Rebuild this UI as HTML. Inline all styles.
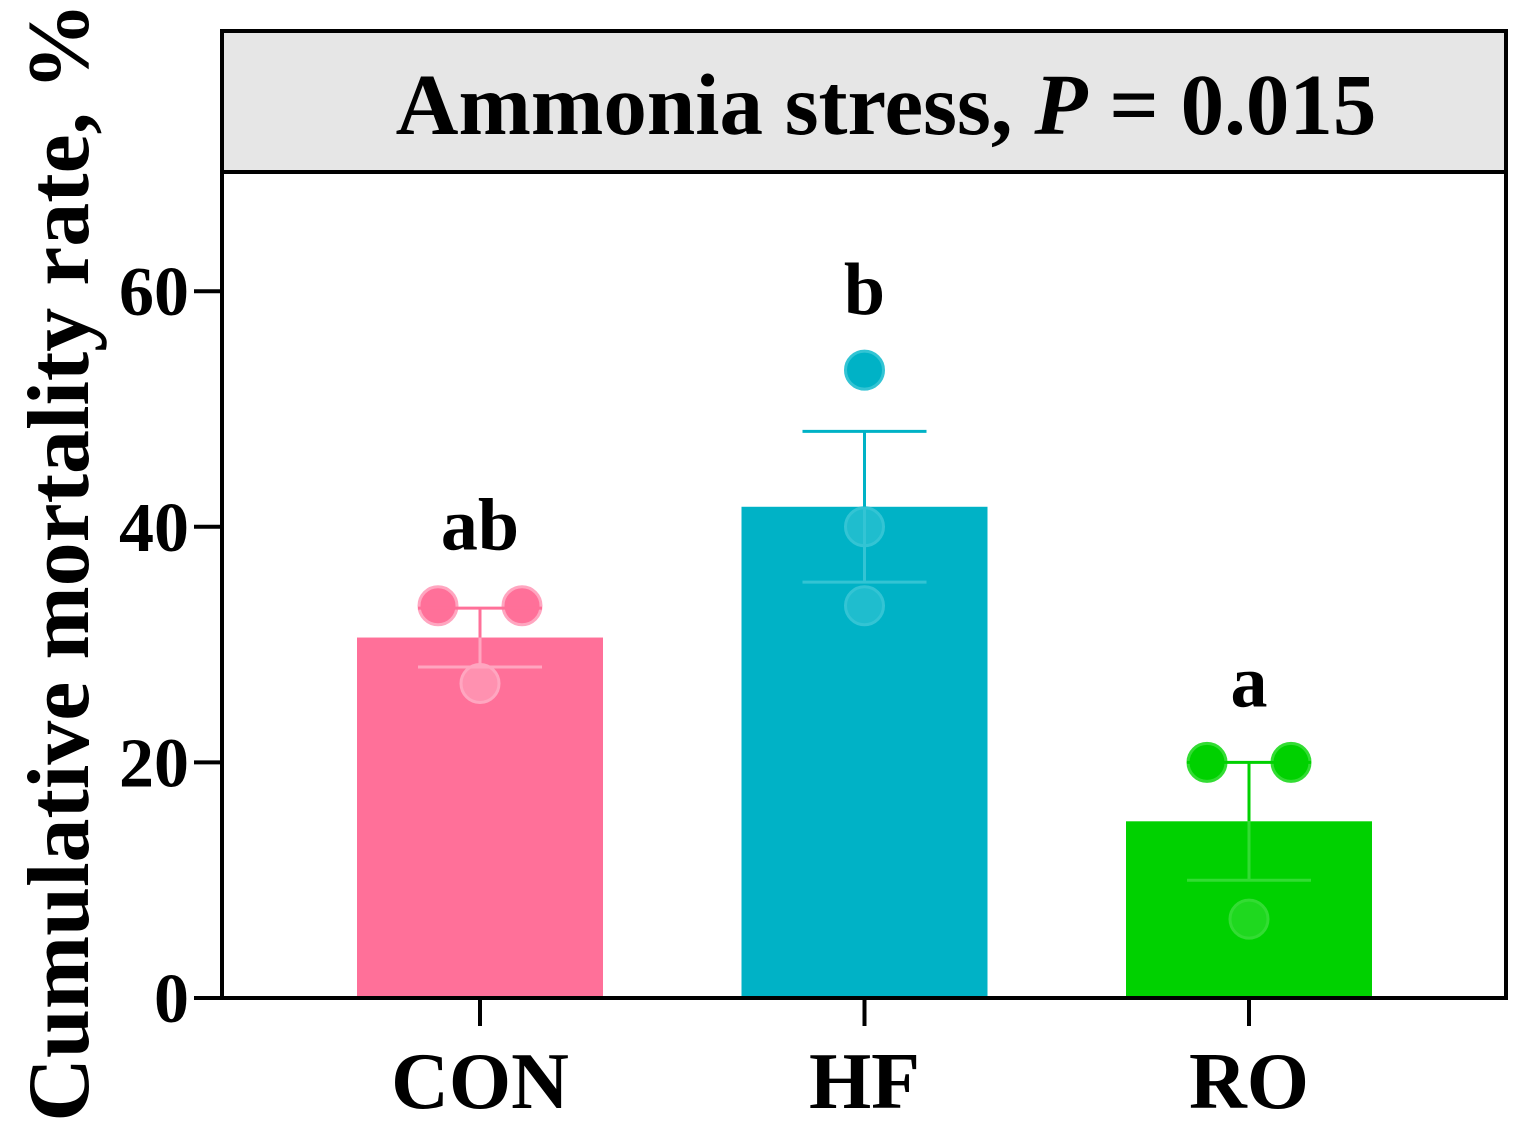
<!DOCTYPE html>
<html><head><meta charset="utf-8"><style>
body{margin:0;background:#fff}
svg{display:block;font-family:"Liberation Serif",serif;font-weight:bold}
</style></head><body>
<svg width="1529" height="1135" viewBox="0 0 1529 1135">
<g id="g"></g>
</svg>
<script>
const categories=["CON","HF","RO"];
const means=[30.6,41.7,15];
const sems=[2.5,6.4,5];
const points=[[33.3,33.3,26.7],[53.3,40,33.3],[20,20,6.7]];
const letters=["ab","b","a"];
const yTicks=[0,20,40,60];
const colors=["#ff7099","#00b2c6","#00d100"];
const light=["#ffa6c0","#33c4d4","#33dc33"];
const X0=222,X1=1506,Y0=998,TOP=172;
const y=v=>Y0-v*11.78;
const xc=i=>480+i*384.5;
const ns="http://www.w3.org/2000/svg",g=document.getElementById('g');
function mk(t,a,txt){const e=document.createElementNS(ns,t);for(const k in a)e.setAttribute(k,a[k]);if(txt!==undefined)e.textContent=txt;g.appendChild(e);return e;}
let e;
e=mk('rect',{x:X0,y:31,width:X1-X0,height:TOP-31,fill:'#e6e6e6',stroke:'#000','stroke-width':4});

e=mk('text',{x:886,y:134,'font-size':87,'text-anchor':'middle'});

e.innerHTML='Ammonia stress, <tspan font-style="italic">P</tspan> = 0.015';
categories.forEach((c,i)=>{
  const cx=xc(i),w=246;
  e=mk('rect',{x:cx-w/2,y:y(means[i]),width:w,height:Y0-y(means[i]),fill:colors[i]});
  
  const offs=(points[i][0]===points[i][1])?[-42,42,0]:[0,0,0];
  points[i].forEach((p,j)=>{
    const inside=p<means[i];
    e=mk('circle',{cx:cx+offs[j],cy:y(p),r:19,fill:inside?light[i]:colors[i],'fill-opacity':inside?0.6:1,stroke:light[i],'stroke-width':3});
    
  });
  const hi=y(means[i]+sems[i]),lo=y(means[i]-sems[i]);
  e=mk('line',{x1:cx,x2:cx,y1:hi,y2:y(means[i]),stroke:colors[i],'stroke-width':3});
  
  e=mk('line',{x1:cx,x2:cx,y1:y(means[i]),y2:lo,stroke:light[i],'stroke-width':3});
  
  e=mk('line',{x1:cx-62,x2:cx+62,y1:hi,y2:hi,stroke:colors[i],'stroke-width':3});
  
  e=mk('line',{x1:cx-62,x2:cx+62,y1:lo,y2:lo,stroke:light[i],'stroke-width':3});
  
  const top=Math.min(y(means[i]+sems[i]),...points[i].map(y))-19;
  e=mk('text',{x:cx,y:top-37,'font-size':74,'text-anchor':'middle'},letters[i]);
  
  e=mk('line',{x1:cx,x2:cx,y1:Y0,y2:Y0+28,stroke:'#000','stroke-width':4});
  
  e=mk('text',{x:cx,y:1108,'font-size':80,'text-anchor':'middle'},c);
  
});
e=mk('rect',{x:X0,y:TOP,width:X1-X0,height:Y0-TOP,fill:'none',stroke:'#000','stroke-width':4});

yTicks.forEach(t=>{
  e=mk('line',{x1:X0-28,x2:X0,y1:y(t),y2:y(t),stroke:'#000','stroke-width':4});
  
  e=mk('text',{x:189,y:y(t)+24,'font-size':70,'text-anchor':'end'},t);
  
});
e=mk('text',{x:0,y:0,'font-size':88,'text-anchor':'middle',transform:'translate(88,562) rotate(-90)'},'Cumulative mortality rate, %');

</script>
</body></html>
